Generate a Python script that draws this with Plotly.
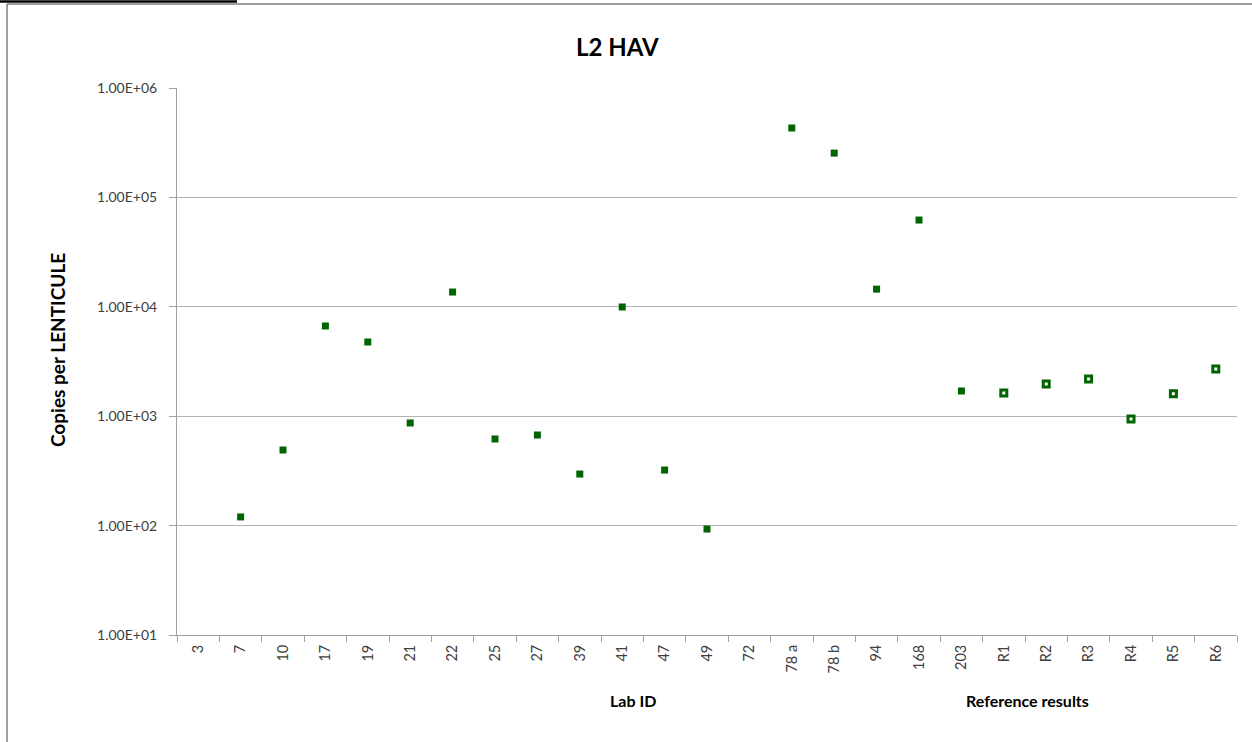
import plotly.graph_objects as go

categories = ["3", "7", "10", "17", "19", "21", "22", "25", "27", "39", "41", "47", "49",
              "72", "78 a", "78 b", "94", "168", "203", "R1", "R2", "R3", "R4", "R5", "R6"]
lab_ids = ["3", "7", "10", "17", "19", "21", "22", "25", "27", "39", "41", "47", "49",
           "72", "78 a", "78 b", "94", "168", "203"]
lab_values = [None, 120, 491, 6680, 4770, 867, 13650, 619, 673, 296, 9960, 322, 93,
              None, 431000, 254000, 14500, 62100, 1700]
ref_ids = ["R1", "R2", "R3", "R4", "R5", "R6"]
ref_values = [1630, 1970, 2190, 942, 1600, 2700]
y_tickvals = [10, 100, 1000, 10000, 100000, 1000000]
y_ticktext = ["1.00E+01", "1.00E+02", "1.00E+03", "1.00E+04", "1.00E+05", "1.00E+06"]

GREEN = "#006400"
FONT = "Lato, 'Open Sans', sans-serif"
W, H = 1252, 742
L, R, T, B = 177, 15, 88, 107
pw, ph = W - L - R, H - T - B

def px(x):
    return (x - L) / pw

def py(y):
    return (H - B - y) / ph

fig = go.Figure()
fig.add_trace(go.Scatter(
    x=lab_ids, y=lab_values, mode="markers",
    marker=dict(symbol="square", size=7, color=GREEN, line=dict(width=0)),
    showlegend=False))
fig.add_trace(go.Scatter(
    x=ref_ids, y=ref_values, mode="markers",
    marker=dict(symbol="square", size=6, color="white", line=dict(width=3, color=GREEN)),
    showlegend=False))

def ann(text, x, y, size, angle=0):
    return dict(text=text, x=px(x), y=py(y), xref="paper", yref="paper",
                xanchor="center", yanchor="middle", showarrow=False, textangle=angle,
                font=dict(size=size, color="#000000", family=FONT))

fig.update_layout(
    width=W, height=H,
    margin=dict(l=L, r=R, t=T, b=B),
    paper_bgcolor="white", plot_bgcolor="white",
    font=dict(family=FONT, size=14, color="#404040"),
    xaxis=dict(
        type="category", categoryorder="array", categoryarray=categories,
        range=[-0.5, len(categories) - 0.5],
        showgrid=False, showline=True, linecolor="#a0a0a0", linewidth=1,
        ticks="outside", tickson="boundaries", ticklen=6, tickcolor="#a0a0a0",
        tickangle=-90, tickfont=dict(size=14.5, color="#404040"), zeroline=False,
        ticklabelstandoff=3,
    ),
    yaxis=dict(
        type="log", range=[1, 6],
        tickvals=y_tickvals, ticktext=y_ticktext,
        showgrid=True, gridcolor="#b4b4b4", gridwidth=1,
        showline=True, linecolor="#a0a0a0", linewidth=1,
        ticks="outside", ticklen=7, tickcolor="#a0a0a0",
        tickfont=dict(size=14, color="#404040"), zeroline=False,
        ticklabelstandoff=9,
    ),
    annotations=[
        ann("<b>L2 HAV</b>", 617, 46, 24),
        ann("<b>Copies per LENTICULE</b>", 57, 350, 19, -90),
        ann("<b>Lab ID</b>", 633, 700, 16),
        ann("<b>Reference results</b>", 1027, 700, 16),
    ],
    shapes=[
        dict(type="line", xref="paper", yref="paper", x0=px(7), x1=px(7), y0=py(4), y1=py(745),
             line=dict(color="#808080", width=1.5)),
        dict(type="line", xref="paper", yref="paper", x0=px(7), x1=px(1255), y0=py(4), y1=py(4),
             line=dict(color="#808080", width=1.5)),
        dict(type="line", xref="paper", yref="paper", x0=px(0), x1=px(237), y0=py(1.5), y1=py(1.5),
             line=dict(color="#000000", width=2.5)),
    ],
)

fig.write_html("out.html", config={"displayModeBar": False},
               post_script="document.body.style.margin='0px';document.body.style.overflow='hidden';")
